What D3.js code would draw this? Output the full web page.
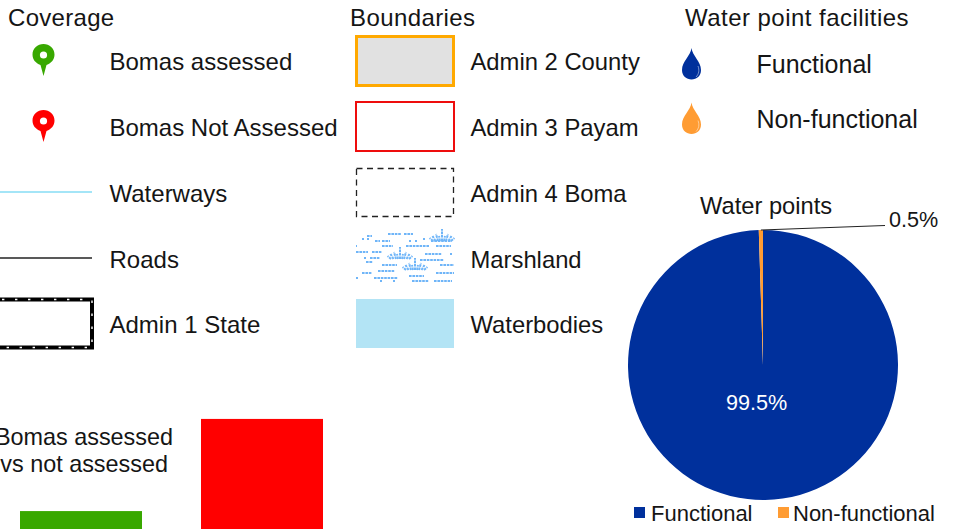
<!DOCTYPE html>
<html><head><meta charset="utf-8">
<script src="https://d3js.org/d3.v7.min.js"></script>
<style>html,body{margin:0;padding:0;background:#fff}svg{display:block}text{font-family:"Liberation Sans",Arial,sans-serif;fill:#151515}</style>
</head><body><svg id="c" width="954" height="529"></svg>
<script>
const coverageLabels=["Bomas assessed","Bomas Not Assessed","Waterways","Roads","Admin 1 State"];
const boundaryLabels=["Admin 2 County","Admin 3 Payam","Admin 4 Boma","Marshland","Waterbodies"];
const facilityLabels=["Functional","Non-functional"];
const pieValues=[99.5,0.5];
const pieLabels=["99.5%","0.5%"];
const barCategories=["Bomas assessed","Bomas not assessed"];
const barValues=[14,86];
const BLUE="#00309c",ORANGE="#ff9c33",GREEN="#38a800",RED="#ff0000";
const svg=d3.select("#c");
const T=(s,x,y,size=24,fill)=>{const t=svg.append("text").attr("x",x).attr("y",y).attr("font-size",size).text(s);if(fill)t.style("fill",fill);return t;};
const rowY=[70,136,202,268,333];
["Coverage","Boundaries","Water point facilities"].forEach((s,i)=>T(s,[8,350,685][i],26,24).attr("letter-spacing",[.3,.4,.46][i]));
coverageLabels.forEach((s,i)=>T(s,109.5,rowY[i]));
boundaryLabels.forEach((s,i)=>T(s,470.5,rowY[i],23.8));
// pins
const pin=(cx,top,col)=>{const g=svg.append("g").attr("transform",`translate(${cx},${top})`);
 g.append("path").attr("d","M0,32 L-3,21 C-8,19 -11,15.5 -11,10.5 C-11,4.5 -6,0 0,0 C6,0 11,4.5 11,10.5 C11,15.5 8,19 3,21 Z").attr("fill",col);
 g.append("circle").attr("cy",11).attr("r",3.6).attr("fill","#fff");};
pin(43.5,44,GREEN);pin(43.5,110,RED);
// lines
svg.append("line").attr("x1",0).attr("x2",92).attr("y1",192).attr("y2",192).attr("stroke","#86dcf5").attr("stroke-width",1.5);
svg.append("line").attr("x1",0).attr("x2",92).attr("y1",258).attr("y2",258).attr("stroke","#222").attr("stroke-width",1.5);
// admin1
svg.append("path").attr("d","M-4,299.5H92V347.5H-4").attr("fill","none").attr("stroke","#000").attr("stroke-width",4);
svg.append("path").attr("d","M-4,299.5H92V347.5H-4").attr("fill","none").attr("stroke","#fff").attr("stroke-width",1.4).attr("stroke-dasharray","2.4 10.6").attr("stroke-dashoffset",-6);
// boundaries
const box=(x,y,w,h,stroke,sw,fill,dash)=>{const r=svg.append("rect").attr("x",x).attr("y",y).attr("width",w).attr("height",h).attr("fill",fill).attr("stroke",stroke).attr("stroke-width",sw);if(dash)r.attr("stroke-dasharray",dash);};
box(356.5,36.5,97,49,"#ffa900",3,"#e1e1e1");
box(356,102,98,49,"#ee0d0d",2,"#fff");
box(356.5,168.5,97,48,"#222",1.3,"#fff","6 4.5");
svg.append("rect").attr("x",356).attr("y",299).attr("width",98).attr("height",49).attr("fill","#b3e4f5");
// marsh swatch
const marshDashes=[[388,401,234],[404,413,234],[367,372,236],[362,364,239],[367,369,239],[423,425,239],[375,380,241],[382,390,241],[409,411,241],[415,417,241],[431,452,241],[382,393,246],[406,429,246],[436,451,246],[356,357,246],[356,368,252],[372,382,252],[425,442,254],[450,452,254],[364,366,258],[370,380,258],[420,444,260],[366,373,262],[382,397,265],[440,454,265],[378,395,271],[362,372,273],[436,454,273],[409,424,276],[356,358,278],[374,398,278],[380,382,281],[393,395,281],[412,429,281],[434,452,281]];
const marshTufts=[[400,260],[415,271],[442,242]];
const tuftFan=[[-9,3,3.4],[-6.5,5,3],[-4,7,2],[-2,5,1],[0,12,0],[2,5,-1],[4,7,-2],[6.5,5,-3],[9,3,-3.4]];
const marsh=svg.append("g").attr("stroke","#6fb5f8").attr("stroke-width",2);
marsh.selectAll("line.d").data(marshDashes).join("line").attr("x1",d=>d[0]).attr("x2",d=>d[1]).attr("y1",d=>d[2]).attr("y2",d=>d[2]).attr("stroke-dasharray","2.6 .8");
marshTufts.forEach(([cx,by])=>{tuftFan.forEach(([o,h,lean])=>{marsh.append("line").attr("x1",cx+o).attr("y1",by-1).attr("x2",cx+o-lean).attr("y2",by-1-h).attr("stroke-dasharray","2.6 .8");});});
// drops
const drop=(cx,top,col)=>{const g=svg.append("g").attr("transform",`translate(${cx},${top})`);
 g.append("path").attr("d","M0,0 C0.8,8 9.5,13 9.5,22 C9.5,28 5,31.5 0,31.5 C-5,31.5 -9.5,28 -9.5,22 C-9.5,13 -0.8,8 0,0Z").attr("fill",col);
 g.append("path").attr("d","M6.5,18 C8,22 7.5,26 4.5,29").attr("fill","none").attr("stroke","#fff").attr("stroke-opacity",.6).attr("stroke-width",.8);};
drop(691.5,48,BLUE);drop(691.5,102.5,ORANGE);
T(facilityLabels[0],756.5,72.5,25);T(facilityLabels[1],756.5,127.5,25);
// pie
const cx=763,cy=365,R=135;
const pie=d3.pie().sort(null).value(d=>d);
const arc=d3.arc().innerRadius(0).outerRadius(R);
const cols=d3.scaleOrdinal().domain(facilityLabels).range([BLUE,ORANGE]);
const pg=svg.append("g").attr("transform",`translate(${cx},${cy})`);
pg.selectAll("path").data(pie(pieValues)).join("path").attr("d",arc).attr("fill",(d,i)=>cols(facilityLabels[i]));
const mid=pie(pieValues)[1];const ang=(mid.startAngle+mid.endAngle)/2;
svg.append("line").attr("x1",cx+R*Math.sin(ang)).attr("y1",cy-R*Math.cos(ang)).attr("x2",885).attr("y2",225.5).attr("stroke","#222").attr("stroke-width",1);
T("Water points",700,214,23.7);
T(pieLabels[1],889,227,21.6);
T(pieLabels[0],726,410,21.6,"#fff");
// pie legend
[[633,651],[777,793]].forEach(([sx,tx],i)=>{svg.append("rect").attr("x",sx+1).attr("y",507).attr("width",11).attr("height",11).attr("fill",cols(facilityLabels[i]));T(facilityLabels[i],tx,521,22);});
// bars
const yB=d3.scaleLinear().domain([0,100]).range([529,401]);
const xB=d3.scaleBand().domain(barCategories).range([20,323]).paddingInner(59/181);
svg.selectAll("rect.bar").data(barValues).join("rect").attr("class","bar").attr("x",(d,i)=>xB(barCategories[i])).attr("width",xB.bandwidth()).attr("y",d=>yB(d)).attr("height",d=>529-yB(d)).attr("fill",(d,i)=>i?RED:GREEN);
T("Bomas assessed",173,445,23.4).attr("text-anchor","end");
T("vs not assessed",168,472,23.4).attr("text-anchor","end");
</script></body></html>
